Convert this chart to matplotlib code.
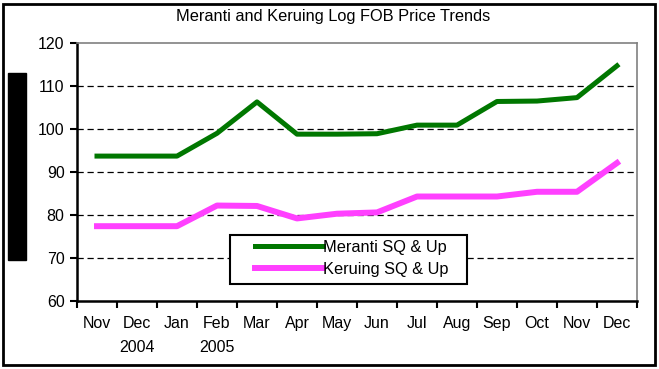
import matplotlib
matplotlib.use('Agg')
import matplotlib.pyplot as plt
from matplotlib.patches import Rectangle

plt.rcParams['font.family'] = ['Liberation Sans', 'DejaVu Sans']

months = ['Nov', 'Dec\n2004', 'Jan', 'Feb\n2005', 'Mar', 'Apr', 'May', 'Jun',
          'Jul', 'Aug', 'Sep', 'Oct', 'Nov', 'Dec']
meranti = [93.7, 93.7, 93.7, 99.0, 106.3, 98.8, 98.8, 98.9,
           100.9, 100.9, 106.4, 106.5, 107.3, 114.7]
keruing = [77.4, 77.4, 77.4, 82.2, 82.1, 79.2, 80.3, 80.6,
           84.3, 84.3, 84.3, 85.4, 85.4, 92.1]

fig = plt.figure(figsize=(6.59, 3.69), dpi=100)
ax = fig.add_axes([77 / 659, 1 - 301 / 369, 560 / 659, 258 / 369])

x = range(len(months))
ax.plot(x, meranti, color='#007700', linewidth=3.6, label='Meranti SQ & Up', zorder=3)
ax.plot(x, keruing, color='#ff40ff', linewidth=4.3, label='Keruing SQ & Up', zorder=3)

ax.set_xlim(-0.5, len(months) - 0.5)
ax.set_ylim(60, 120)
ax.set_yticks(range(60, 121, 10))
for v in range(70, 120, 10):
    ax.axhline(v, color='black', linewidth=0.9, linestyle=(0, (5, 3)), zorder=1)

# labels centred on the months, ticks on the boundaries
ax.set_xticks([i - 0.5 for i in range(len(months) + 1)])
ax.set_xticklabels([])
ax.set_xticks(list(x), minor=True)
ax.set_xticklabels(months, minor=True, fontsize=11.5, linespacing=1.75)
ax.tick_params(axis='x', which='minor', length=0, pad=11)
ax.tick_params(axis='x', which='major', length=5, width=1.5, direction='out')
ax.tick_params(axis='y', length=5, width=1.5, direction='out', labelsize=11.5, pad=4)

for side in ['top', 'right']:
    ax.spines[side].set_color('#808080')
    ax.spines[side].set_linewidth(1.2)
for side in ['left', 'bottom']:
    ax.spines[side].set_color('black')
    ax.spines[side].set_linewidth(1.8)

# legend box drawn by hand, entries placed inside it
ax.add_patch(Rectangle((0.2732, 0.0659), 0.423, 0.19, transform=ax.transAxes,
                       facecolor='white', edgecolor='black', linewidth=1.5,
                       zorder=4))
leg = ax.legend(loc='center left', bbox_to_anchor=(0.318, 0.165),
                borderaxespad=0, borderpad=0, fontsize=11.8, handlelength=4.15,
                handletextpad=0.0, labelspacing=0.4, frameon=False)
leg.set_zorder(5)

fig.text(333 / 659, 1 - 16 / 369, 'Meranti and Keruing Log FOB Price Trends',
         ha='center', va='center', fontsize=11.8)

# black block on the left and the outer frame
fig.patches.append(Rectangle((8 / 659, 1 - 260 / 369), 18 / 659, 187 / 369,
                             transform=fig.transFigure, color='black'))
fig.patches.append(Rectangle((3 / 659, 4 / 369), 652 / 659, 361 / 369,
                             transform=fig.transFigure, fill=False,
                             edgecolor='black', linewidth=2))

fig.savefig('out.png', dpi=100)
